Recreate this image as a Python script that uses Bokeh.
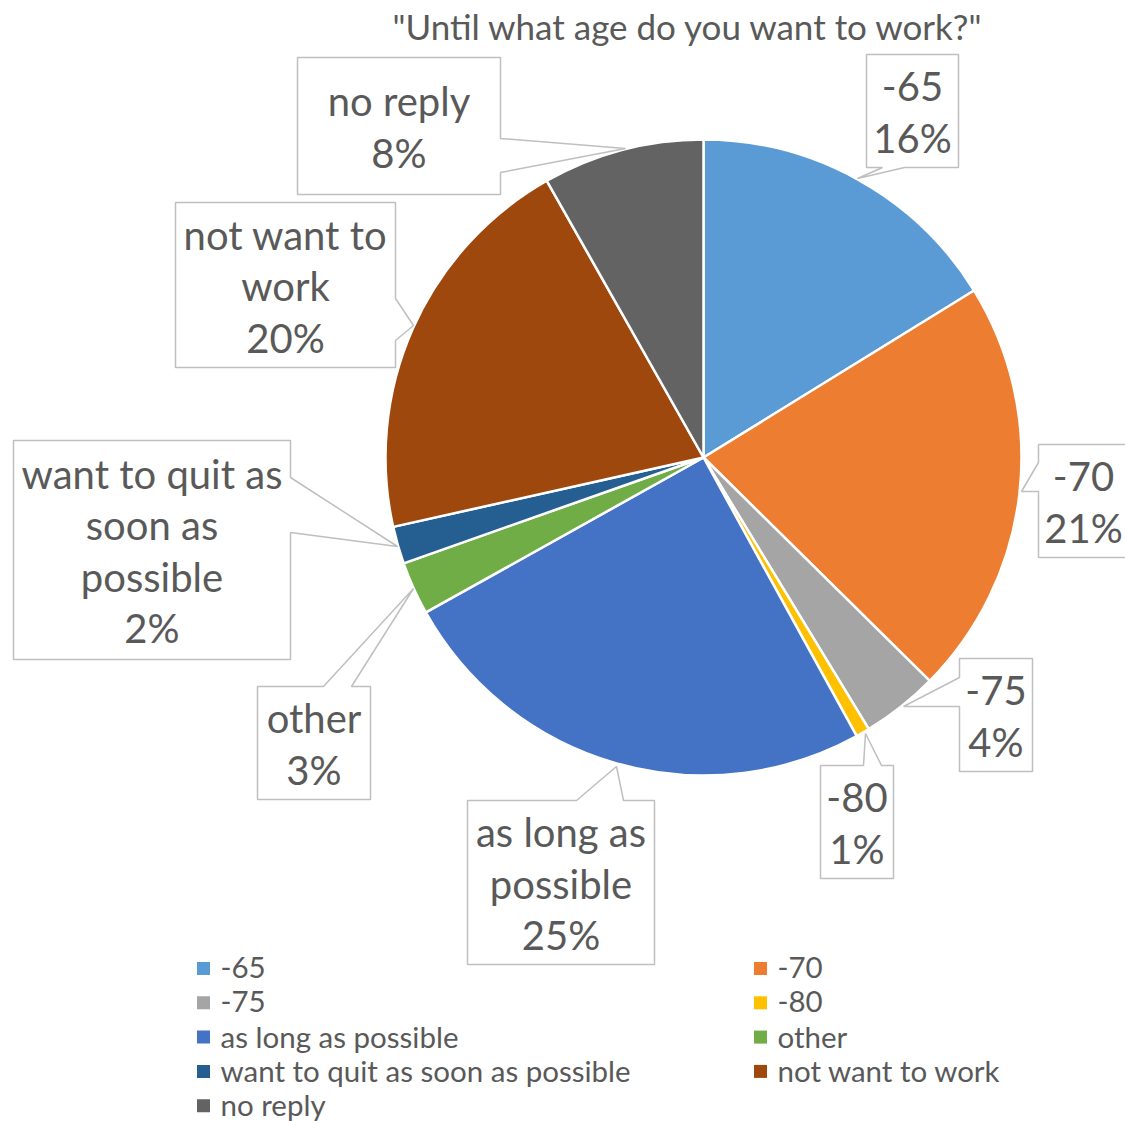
import math
from bokeh.plotting import figure
from bokeh.models import Range1d
from bokeh.core.properties import value
from bokeh.embed import file_html
from bokeh.resources import INLINE

# ---------------- data ----------------
title = '"Until what age do you want to work?"'
categories = ["-65", "-70", "-75", "-80", "as long as possible", "other",
              "want to quit as soon as possible", "not want to work", "no reply"]
shares = [16.2, 21.2, 3.9, 0.7, 24.9, 2.7, 1.9, 20.3, 8.2]
colors = ["#5B9BD5", "#ED7D31", "#A5A5A5", "#FFC000", "#4472C4", "#70AD47",
          "#255E91", "#9E480E", "#636363"]
label_lines = [["-65"], ["-70"], ["-75"], ["-80"], ["as long as", "possible"], ["other"],
               ["want to quit as", "soon as", "possible"], ["not want to", "work"], ["no reply"]]

# ---------------- layout (screen px) ----------------
CX, CY, R = 703, 457, 318
# left, top, right, bottom, side, base1, base2, tip_x, tip_y
callouts = [
    (866, 54, 958, 167, "bottom", 882, 904, 857, 178),
    (1038, 444, 1128, 557, "left", 462, 491, 1021, 491),
    (959, 658, 1032, 771, "left", 677, 706, 903, 706),
    (820, 765, 893, 878, "top", 863, 881, 865, 733),
    (467, 800, 654, 964, "top", 576, 623, 616, 766),
    (257, 686, 370, 799, "top", 323, 351, 413, 588),
    (13, 440, 290, 659, "right", 477, 532, 397, 546),
    (175, 202, 395, 367, "right", 298, 340, 413, 325),
    (297, 57, 500, 194, "right", 138, 172, 625, 148),
]
TEXT = "#595959"
FONT = "Lato"
LABEL_SIZE = "40px"
LINE_H = 51.5

W, H = 1125, 1121
p = figure(width=W, height=H, output_backend="svg", toolbar_location=None,
           x_range=Range1d(0, W), y_range=Range1d(-H, 0),
           min_border=0, outline_line_color=None)
p.axis.visible = False
p.grid.visible = False
p.background_fill_color = "white"
p.border_fill_color = "white"

def Y(v):
    return -v

# ---------------- pie ----------------
total = sum(shares)
starts, ends = [], []
cum = 0.0
for s in shares:
    a_hi = math.pi / 2 - cum / total * 2 * math.pi
    cum += s
    a_lo = math.pi / 2 - cum / total * 2 * math.pi
    starts.append(a_lo)
    ends.append(a_hi)
p.wedge(x=[CX] * len(shares), y=[Y(CY)] * len(shares), radius=R,
        start_angle=starts, end_angle=ends, fill_color=colors,
        line_color="white", line_width=2.5)

# ---------------- callouts ----------------
xs_all, ys_all = [], []
for (l, t, r, b, side, b1, b2, tx, ty) in callouts:
    if side == "bottom":
        pts = [(l, t), (r, t), (r, b), (b2, b), (tx, ty), (b1, b), (l, b)]
    elif side == "top":
        pts = [(l, t), (b1, t), (tx, ty), (b2, t), (r, t), (r, b), (l, b)]
    elif side == "left":
        pts = [(l, t), (r, t), (r, b), (l, b), (l, b2), (tx, ty), (l, b1)]
    else:
        pts = [(l, t), (r, t), (r, b1), (tx, ty), (r, b2), (r, b), (l, b)]
    xs_all.append([q[0] for q in pts])
    ys_all.append([Y(q[1]) for q in pts])
p.patches(xs=xs_all, ys=ys_all, fill_color="white", line_color="#BFBFBF", line_width=1.5)

tx_, ty_, tt_ = [], [], []
for i, (l, t, r, b, *_rest) in enumerate(callouts):
    pct = f"{round(shares[i] / total * 100)}%"
    lines = label_lines[i] + [pct]
    n = len(lines)
    cx = (l + r) / 2
    cy = (t + b) / 2 + 1
    for k, ln in enumerate(lines):
        tx_.append(cx)
        ty_.append(Y(cy - (n - 1) / 2 * LINE_H + k * LINE_H))
        tt_.append(ln)
p.text(x=tx_, y=ty_, text=tt_, text_align="center", text_baseline="middle",
       text_color=TEXT, text_font=value(FONT), text_font_size=value(LABEL_SIZE))

# ---------------- title ----------------
p.text(x=[688], y=[Y(25)], text=[title], text_align="center", text_baseline="middle",
       text_color=TEXT, text_font=value(FONT), text_font_size=value("35px"))

# ---------------- legend ----------------
mx, my, lx, ly, lt = [], [], [], [], []
for i, c in enumerate(categories):
    col, row = i % 2, i // 2
    yy = 967 + row * 34.3
    mx.append(203 if col == 0 else 760)
    my.append(Y(yy + 1))
    lx.append(220 if col == 0 else 777)
    ly.append(Y(yy))
    lt.append(c)
p.rect(x=mx, y=my, width=13, height=13, fill_color=colors, line_color=None)
p.text(x=lx, y=ly, text=lt, text_align="left", text_baseline="middle",
       text_color=TEXT, text_font=value(FONT), text_font_size=value("29.5px"))

open("out.html", "w").write(file_html(p, INLINE))
